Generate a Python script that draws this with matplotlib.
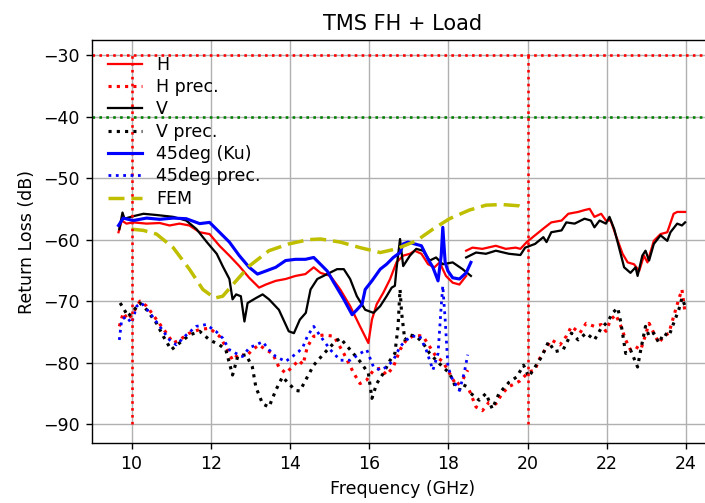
import matplotlib
matplotlib.use("Agg")
import matplotlib.pyplot as plt

# ---- measured return loss data (frequency in GHz, level in dB) ----
# H polarisation, first sweep (Ku band)
h_f1 = [9.67, 9.75, 9.87, 10.04, 10.38, 10.71, 10.96, 11.21, 11.46, 11.72, 11.97,
        12.22, 12.47, 12.72, 12.97, 13.22, 13.39, 13.64, 13.89, 14.14, 14.39, 14.60,
        14.77, 15.02, 15.27, 15.52, 15.77, 15.98, 16.07, 16.19, 16.36, 16.53, 16.69,
        16.86, 17.03, 17.15, 17.32, 17.49, 17.65, 17.78, 17.94, 18.11, 18.28, 18.45]
h_v1 = [-58.8, -56.9, -57.4, -57.2, -57.4, -57.3, -57.7, -57.4, -57.7, -58.8, -59.1,
        -61.0, -62.6, -64.3, -66.2, -67.8, -67.3, -66.7, -66.4, -65.9, -65.6, -64.5,
        -65.4, -65.9, -68.1, -70.8, -74.1, -76.8, -73.0, -70.5, -68.6, -66.4, -63.7,
        -62.6, -62.3, -61.8, -62.3, -64.0, -64.5, -63.7, -65.9, -67.0, -67.3, -65.9]
# H polarisation, second sweep (K band)
h_f2 = [18.45, 18.61, 18.86, 19.20, 19.45, 19.70, 19.82, 19.98, 20.19, 20.44, 20.60,
        20.86, 21.03, 21.28, 21.44, 21.57, 21.69, 21.86, 21.98, 22.10, 22.23, 22.40,
        22.53, 22.69, 22.82, 22.94, 23.03, 23.19, 23.36, 23.53, 23.69, 23.78, 23.98]
h_v2 = [-61.8, -61.3, -61.5, -61.0, -61.5, -61.3, -61.5, -60.4, -59.3, -58.0, -57.2,
        -56.9, -55.8, -55.5, -55.2, -55.0, -56.3, -55.8, -56.9, -56.9, -59.3, -62.3,
        -63.7, -64.0, -65.1, -62.6, -63.7, -60.2, -59.1, -58.8, -55.8, -55.5, -55.5]

# H precision limit
hp_f1 = [9.69, 9.79, 9.91, 10.04, 10.21, 10.38, 10.63, 10.88, 11.05, 11.21, 11.46,
         11.72, 11.97, 12.22, 12.38, 12.55, 12.72, 12.89, 13.05, 13.22, 13.39, 13.56,
         13.72, 13.89, 14.06, 14.22, 14.33, 14.44, 14.60, 14.86, 15.11, 15.36, 15.61,
         15.77, 15.94, 16.11, 16.28, 16.44, 16.61, 16.78, 16.94, 17.15, 17.36, 17.53,
         17.69, 17.86, 18.03, 18.20, 18.36, 18.49]
hp_v1 = [-74.1, -71.9, -73.0, -71.9, -70.0, -70.8, -73.0, -75.2, -76.8, -76.3, -75.2,
         -74.6, -74.4, -75.7, -77.4, -79.6, -78.5, -79.0, -77.9, -77.1, -77.9, -78.5,
         -80.7, -81.7, -80.7, -79.6, -80.3, -77.4, -75.7, -75.5, -75.7, -78.5, -81.7,
         -83.4, -82.8, -81.2, -80.9, -82.0, -80.7, -77.9, -76.3, -75.5, -75.7, -77.4,
         -79.0, -79.8, -81.7, -83.7, -82.8, -81.2]
hp_f2 = [18.53, 18.70, 18.86, 19.03, 19.20, 19.36, 19.53, 19.80, 20.03, 20.19, 20.28,
         20.44, 20.60, 20.82, 20.98, 21.11, 21.32, 21.48, 21.69, 21.86, 21.98, 22.10,
         22.23, 22.36, 22.48, 22.60, 22.73, 22.86, 22.94, 23.07, 23.19, 23.32, 23.44,
         23.57, 23.69, 23.82, 23.90, 23.98]
hp_v2 = [-84.5, -87.2, -87.8, -86.4, -86.7, -85.0, -83.9, -83.0, -81.5, -81.2, -79.6,
         -77.9, -76.3, -77.1, -75.7, -74.1, -75.2, -73.6, -74.1, -73.8, -74.9, -73.0,
         -72.2, -74.1, -76.3, -77.9, -77.4, -77.9, -76.3, -73.6, -75.2, -76.8, -75.7,
         -75.2, -72.5, -69.7, -68.1, -71.9]

# V polarisation
v_f1 = [9.69, 9.77, 9.82, 10.04, 10.30, 10.63, 11.05, 11.38, 11.64, 11.90, 12.15,
        12.30, 12.47, 12.55, 12.64, 12.76, 12.85, 12.93, 13.14, 13.31, 13.47, 13.72,
        13.97, 14.10, 14.25, 14.40, 14.52, 14.69, 14.94, 15.19, 15.36, 15.52, 15.69,
        15.90, 16.11, 16.28, 16.44, 16.57, 16.65, 16.69, 16.78, 16.86, 17.03, 17.19,
        17.36, 17.53, 17.69, 17.86, 18.11, 18.36, 18.57]
v_v1 = [-58.3, -55.6, -56.6, -56.2, -55.8, -56.0, -56.3, -56.9, -58.3, -60.4, -62.3,
        -64.3, -66.4, -69.7, -68.9, -69.2, -73.3, -70.3, -69.5, -68.9, -69.7, -71.4,
        -74.9, -75.2, -73.0, -71.9, -68.1, -66.4, -65.6, -64.8, -64.8, -66.4, -69.2,
        -71.4, -71.9, -70.8, -69.2, -67.8, -67.5, -64.8, -59.9, -64.3, -62.6, -61.5,
        -61.8, -63.4, -62.9, -64.0, -63.7, -64.8, -65.9]
v_f2 = [18.45, 18.70, 18.95, 19.20, 19.53, 19.82, 19.94, 20.19, 20.40, 20.48, 20.60,
        20.86, 20.98, 21.19, 21.44, 21.60, 21.69, 21.82, 21.98, 22.07, 22.19, 22.32,
        22.44, 22.60, 22.73, 22.78, 22.90, 22.98, 23.07, 23.19, 23.36, 23.53, 23.61,
        23.78, 23.90, 23.98]
v_v2 = [-62.9, -62.1, -62.3, -61.8, -62.3, -62.5, -61.3, -60.7, -59.6, -60.4, -58.8,
        -58.5, -57.2, -57.4, -56.6, -56.9, -58.0, -56.9, -57.4, -56.3, -58.3, -61.5,
        -64.5, -65.4, -64.5, -65.9, -62.6, -61.8, -63.4, -60.7, -59.3, -60.2, -58.8,
        -57.4, -57.7, -57.2]

# V precision limit
vp_f1 = [9.71, 9.79, 9.91, 10.04, 10.21, 10.38, 10.63, 10.80, 11.00, 11.21, 11.46,
         11.72, 11.97, 12.22, 12.38, 12.55, 12.68, 12.89, 13.05, 13.14, 13.31, 13.47,
         13.64, 13.81, 13.97, 14.14, 14.25, 14.44, 14.60, 14.86, 15.11, 15.27, 15.52,
         15.77, 15.98, 16.07, 16.19, 16.36, 16.53, 16.65, 16.73, 16.78, 16.82, 16.90,
         17.03, 17.19, 17.36, 17.53, 17.69, 17.86, 18.03, 18.20, 18.36, 18.49]
vp_v1 = [-70.3, -71.1, -72.5, -71.6, -70.3, -71.4, -73.6, -75.7, -77.9, -76.8, -75.5,
         -74.9, -76.3, -77.1, -77.9, -82.0, -79.0, -78.7, -80.7, -84.0, -86.7, -87.2,
         -84.5, -82.3, -83.4, -84.5, -84.6, -82.3, -80.4, -78.5, -76.8, -76.0, -77.9,
         -79.8, -81.7, -85.8, -83.4, -81.7, -79.6, -78.5, -74.1, -68.1, -71.9, -76.3,
         -75.5, -75.7, -76.8, -78.5, -79.6, -80.7, -81.7, -84.2, -84.5, -82.8]
vp_f2 = [18.57, 18.78, 18.95, 19.11, 19.28, 19.53, 19.73, 19.90, 20.03, 20.19, 20.36,
         20.53, 20.69, 20.90, 21.11, 21.28, 21.48, 21.69, 21.86, 22.03, 22.15, 22.28,
         22.36, 22.48, 22.60, 22.78, 22.86, 22.98, 23.07, 23.19, 23.32, 23.44, 23.57,
         23.69, 23.82, 23.90, 23.98]
vp_v2 = [-85.0, -86.1, -85.0, -87.5, -85.0, -83.2, -82.3, -80.4, -82.3, -80.7, -79.0,
         -76.6, -78.2, -77.9, -75.2, -76.3, -75.2, -76.3, -74.4, -73.3, -71.9, -71.1,
         -73.6, -78.5, -77.9, -80.7, -77.9, -74.1, -75.7, -75.2, -76.8, -75.2, -75.7,
         -73.6, -71.4, -69.5, -70.8]

# 45 degree polarisation (Ku band only)
d_f = [9.67, 9.79, 10.04, 10.38, 10.71, 11.05, 11.38, 11.72, 11.97, 12.22, 12.47,
       12.72, 12.97, 13.18, 13.39, 13.64, 13.89, 14.14, 14.39, 14.60, 14.77, 14.94,
       15.11, 15.36, 15.57, 15.69, 15.82, 15.90, 16.07, 16.28, 16.44, 16.61, 16.78,
       16.86, 16.98, 17.15, 17.32, 17.49, 17.61, 17.74, 17.82, 17.86, 17.92, 17.99,
       18.11, 18.28, 18.45, 18.57]
d_v = [-57.7, -56.5, -56.9, -56.5, -56.7, -56.5, -56.6, -57.4, -57.2, -58.8, -60.4,
       -62.6, -64.5, -65.6, -65.1, -64.5, -63.4, -63.2, -63.2, -62.9, -64.0, -65.1,
       -67.0, -69.7, -72.2, -71.4, -70.5, -68.1, -66.7, -64.8, -64.0, -62.9, -62.1,
       -60.7, -60.4, -60.7, -61.0, -63.2, -64.5, -66.7, -62.6, -58.0, -63.7, -65.1,
       -66.2, -66.4, -65.4, -63.7]
dp_f = [9.69, 9.75, 9.87, 10.00, 10.13, 10.25, 10.46, 10.71, 10.96, 11.13, 11.38,
        11.63, 11.88, 12.13, 12.30, 12.47, 12.64, 12.80, 12.97, 13.14, 13.31, 13.47,
        13.64, 13.89, 14.06, 14.22, 14.33, 14.44, 14.60, 14.77, 15.02, 15.27, 15.52,
        15.77, 15.94, 16.11, 16.28, 16.44, 16.61, 16.78, 16.94, 17.11, 17.28, 17.44,
        17.61, 17.74, 17.82, 17.86, 17.92, 17.99, 18.11, 18.28, 18.40, 18.49]
dp_v = [-76.3, -73.0, -72.5, -73.6, -70.8, -70.3, -71.9, -74.1, -76.3, -77.1, -75.5,
        -74.1, -73.8, -74.9, -76.0, -77.9, -78.5, -79.0, -77.6, -77.1, -76.6, -77.9,
        -79.0, -79.8, -79.0, -78.2, -77.4, -75.7, -74.1, -75.7, -77.9, -79.6, -79.6,
        -78.5, -77.9, -80.7, -81.2, -80.7, -79.6, -77.4, -76.3, -75.7, -75.7, -77.9,
        -81.2, -78.5, -70.8, -67.5, -73.0, -80.7, -82.8, -84.5, -81.7, -78.7]

# FEM simulation
fem_f = [10.0, 10.3, 10.63, 11.05, 11.46, 11.8, 12.1, 12.3, 12.64, 12.97, 13.47,
         13.97, 14.47, 14.77, 15.27, 15.77, 16.28, 16.69, 17.19, 17.61, 18.03, 18.53,
         18.95, 19.36, 19.78, 19.95]
fem_v = [-58.3, -58.5, -59.1, -61.3, -64.8, -68.1, -69.5, -69.2, -66.7, -64.3, -61.8,
         -60.7, -60.0, -59.9, -60.4, -61.3, -62.1, -61.5, -60.2, -58.3, -56.6, -55.2,
         -54.4, -54.3, -54.5, -55.0]

# requirement limits
band_edges = [10, 20]
limit_levels = [-30, -40]
limit_colors = ["r", "g"]
band_span = (-90, -30)

fig = plt.figure(figsize=(5.64, 4.024), dpi=125)
ax = fig.add_axes([92 / 705, 60 / 503, 622 / 705, 403 / 503])

ax.plot(h_f1, h_v1, "r-", lw=1.3, label="H")
ax.plot(h_f2, h_v2, "r-", lw=1.3)
ax.plot(hp_f1, hp_v1, "r:", lw=1.8, label="H prec.")
ax.plot(hp_f2, hp_v2, "r:", lw=1.8)
ax.plot(v_f1, v_v1, "k-", lw=1.3, label="V")
ax.plot(v_f2, v_v2, "k-", lw=1.3)
ax.plot(vp_f1, vp_v1, "k:", lw=1.8, label="V prec.")
ax.plot(vp_f2, vp_v2, "k:", lw=1.8)
ax.plot(d_f, d_v, "b-", lw=1.8, label="45deg (Ku)")
ax.plot(dp_f, dp_v, "b:", lw=1.6, label="45deg prec.")
ax.plot(fem_f, fem_v, "y--", lw=2.0, dashes=(4.6, 2.0), label="FEM")

for lvl, col in zip(limit_levels, limit_colors):
    ax.axhline(lvl, color=col, ls=":", lw=1.5)
ax.vlines(band_edges, band_span[0], band_span[1], colors="r", linestyles=":", lw=1.5)

ax.set_xlim(9.0, 24.71)
ax.set_ylim(-93.05, -27.56)
ax.set_xticks(range(10, 25, 2))
ax.set_yticks(range(-90, -29, 10))
ax.grid(True)
ax.set_title("TMS FH + Load")
ax.set_xlabel("Frequency (GHz)")
ax.set_ylabel("Return Loss (dB)")
ax.legend(loc="upper left", frameon=False, labelspacing=0.25)

fig.savefig("out.png", dpi=125)
